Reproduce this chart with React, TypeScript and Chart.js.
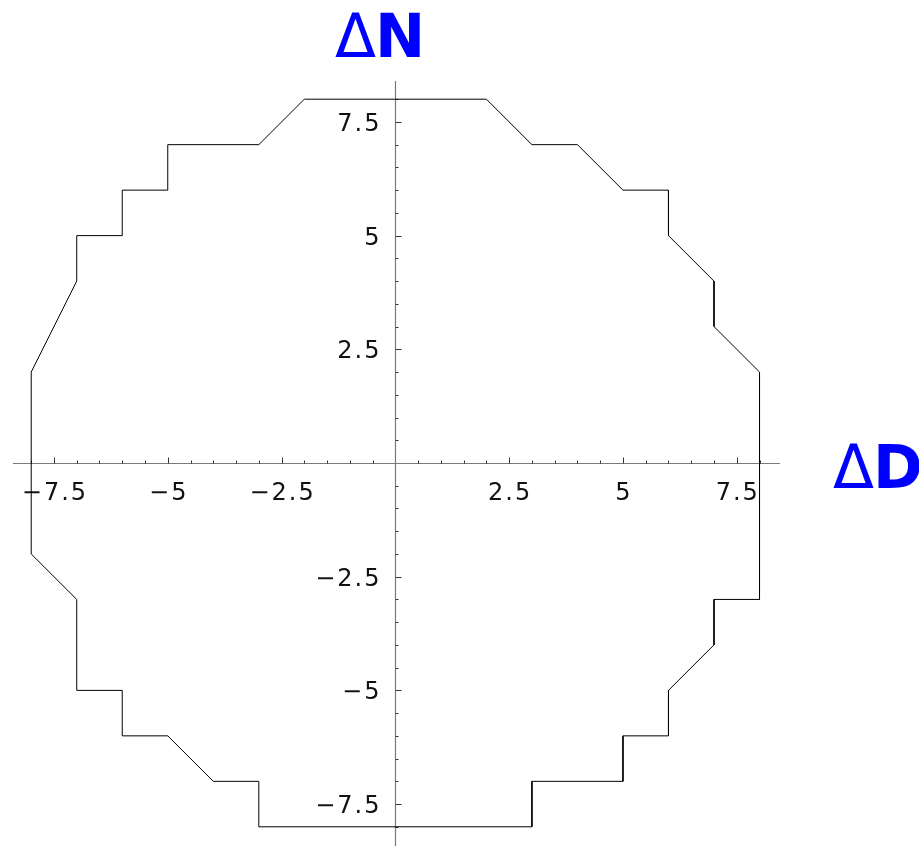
import React, { useEffect, useRef } from "react";
import { Chart, registerables } from "chart.js";

Chart.register(...registerables);

// Polygon vertices (ΔD, ΔN)
const dD = [-2, 2, 3, 4, 5, 6, 6, 7, 7, 8, 8, 7, 7, 6, 6, 5, 5, 3, 3, -3, -3, -4, -5, -6, -6, -7, -7, -8, -8, -7, -7, -6, -6, -5, -5, -3, -2];
const dN = [8, 8, 7, 7, 6, 6, 5, 4, 3, 2, -3, -3, -4, -5, -6, -6, -7, -7, -8, -8, -7, -7, -6, -6, -5, -5, -3, -2, 2, 4, 5, 5, 6, 6, 7, 7, 8];

const xMajorTicks = [-7.5, -5, -2.5, 2.5, 5, 7.5];
const xTickLabels = ["\u22127.5", "\u22125", "\u22122.5", "2.5", "5", "7.5"];
const yMajorTicks = [7.5, 5, 2.5, -2.5, -5, -7.5];
const yTickLabels = ["7.5", "5", "2.5", "\u22122.5", "\u22125", "\u22127.5"];
const minorStep = 0.5;
const minorRange = [-8, 8];

const xLabel = ["\u0394", "D"];
const yLabel = ["\u0394", "N"];

const axesPlugin = {
  id: "mathAxes",
  beforeDatasetsDraw(chart: any) {
    const ctx = chart.ctx;
    const xs = chart.scales.x;
    const ys = chart.scales.y;
    const area = chart.chartArea;
    const x0 = Math.round(xs.getPixelForValue(0)) + 0.5;
    const y0 = Math.round(ys.getPixelForValue(0)) + 0.5;
    ctx.save();
    // axis lines
    ctx.strokeStyle = "#7a7a7a";
    ctx.lineWidth = 1.2;
    ctx.beginPath();
    ctx.moveTo(area.left, y0);
    ctx.lineTo(area.right, y0);
    ctx.moveTo(x0, area.top);
    ctx.lineTo(x0, chart.height);
    ctx.stroke();
    // ticks
    ctx.strokeStyle = "#333";
    ctx.lineWidth = 1;
    ctx.beginPath();
    for (let v = minorRange[0]; v <= minorRange[1] + 1e-9; v += minorStep) {
      if (Math.abs(v) < 1e-9) continue;
      const major = Math.abs(v / 2.5 - Math.round(v / 2.5)) < 1e-9;
      const len = major ? 6 : 3;
      const px = Math.round(xs.getPixelForValue(v)) + 0.5;
      ctx.moveTo(px, y0);
      ctx.lineTo(px, y0 - len);
      const py = Math.round(ys.getPixelForValue(v)) + 0.5;
      ctx.moveTo(x0, py);
      ctx.lineTo(x0 + len, py);
    }
    ctx.stroke();
    // tick labels
    ctx.fillStyle = "#111";
    ctx.font = "24px 'DejaVu Sans'";
    try { ctx.letterSpacing = "2px"; } catch (e) {}
    ctx.textBaseline = "alphabetic";
    ctx.textAlign = "center";
    xMajorTicks.forEach((v, i) => {
      ctx.fillText(xTickLabels[i], xs.getPixelForValue(v) + 1, y0 + 36);
    });
    ctx.textAlign = "right";
    yMajorTicks.forEach((v, i) => {
      ctx.fillText(yTickLabels[i], x0 - 14, ys.getPixelForValue(v) + 9);
    });
    try { ctx.letterSpacing = "0px"; } catch (e) {}
    // axis titles
    ctx.fillStyle = "#0000ff";
    ctx.textAlign = "left";
    ctx.font = "60px 'DejaVu Sans'";
    ctx.fillText(yLabel[0], 335, 57);
    ctx.font = "bold 60px 'DejaVu Sans'";
    ctx.fillText(yLabel[1], 375, 57);
    ctx.font = "60px 'DejaVu Sans'";
    ctx.fillText(xLabel[0], 833, 488);
    ctx.font = "bold 60px 'DejaVu Sans'";
    ctx.fillText(xLabel[1], 873, 488);
    ctx.restore();
  },
};

export default function App() {
  const ref = useRef<HTMLCanvasElement>(null);
  useEffect(() => {
    if (!ref.current) return;
    const points = dD.map((d, i) => ({ x: d, y: dN[i] }));
    const chart = new Chart(ref.current, {
      type: "scatter",
      data: {
        datasets: [
          {
            data: points,
            showLine: true,
            borderColor: "#000",
            borderWidth: 1,
            pointRadius: 0,
            fill: false,
            tension: 0,
          },
        ],
      },
      options: {
        animation: false,
        responsive: false,
        devicePixelRatio: 1,
        layout: { padding: { left: 13, top: 81, right: 139, bottom: 1 } },
        plugins: { legend: { display: false }, tooltip: { enabled: false } },
        scales: {
          x: { type: "linear", min: -8.4, max: 8.45, display: false },
          y: { type: "linear", min: -8.4, max: 8.4, display: false },
        },
      },
      plugins: [axesPlugin],
    });
    return () => chart.destroy();
  }, []);
  return (
    <div style={{ position: "absolute", left: 0, top: 0, width: 919, height: 846, background: "#fff" }}>
      <canvas ref={ref} width={919} height={846} />
    </div>
  );
}
